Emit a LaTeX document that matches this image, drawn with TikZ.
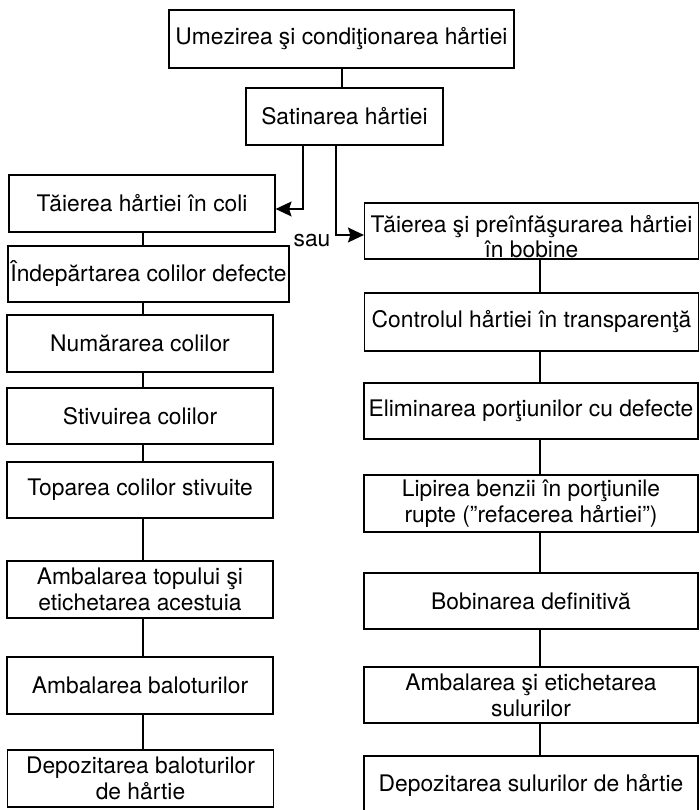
\documentclass[tikz,border=0pt]{standalone}
\usepackage{fontspec}
\setmainfont{TeX Gyre Heros}
\usetikzlibrary{arrows.meta}
\begin{document}
\begin{tikzpicture}[x=1pt,y=-1pt,
  etapa/.style={draw, line width=1.2pt, inner xsep=2pt, inner ysep=0pt, align=center,
    font=\fontsize{22.8}{26}\selectfont, minimum height=57pt},
  stg/.style={etapa, minimum width=266pt},
  dr/.style={etapa, minimum width=334pt},
  leg/.style={line width=1.2pt},
  sag/.style={line width=1.2pt, -{Stealth[length=16pt,width=15pt,inset=2.5pt]}}]
\useasboundingbox (0,0) rectangle (699,810);
\node[etapa, minimum width=345pt, minimum height=58pt] (umezire) at (341.5,39) {Umezirea şi condiţionarea hårtiei};
\node[etapa, minimum width=197pt] (satinare) at (344.5,116.5) {Satinarea hårtiei};
\node[stg] (coli) at (142,203.5) {Tăierea hårtiei în coli};
\node[etapa, minimum width=281pt, minimum height=56pt] (indepartare) at (148.5,274) {Îndepărtarea colilor defecte};
\node[stg] (numarare) at (140,343.5) {Numărarea colilor};
\node[stg, minimum height=56pt] (stivuire) at (140,416) {Stivuirea colilor};
\node[stg, minimum height=56pt] (topare) at (140,490) {Toparea colilor stivuite};
\node[stg] (ambtop) at (140,589.5) {Ambalarea topului şi\\etichetarea acestuia};
\node[stg] (ambbal) at (140,685.5) {Ambalarea baloturilor};
\node[stg] (depbal) at (140.5,778.5) {Depozitarea baloturilor\\de hårtie};
\node[dr, minimum height=56pt] (bobine) at (531.5,231) {\raisebox{-9pt}[\height][\depth]{\begin{tabular}{@{}c@{}}Tăierea şi preînfăşurarea hårtiei\\[-1pt]în bobine\end{tabular}}};
\node[dr, minimum height=58pt] (control) at (531.5,322) {Controlul hårtiei în transparenţă};
\node[dr, minimum height=56pt] (eliminare) at (531,411) {Eliminarea porţiunilor cu defecte};
\node[dr] (lipire) at (531,503.5) {Lipirea benzii în porţiunile\\rupte (”refacerea hårtiei”)};
\node[dr, minimum height=56pt] (bobinare) at (531,601) {Bobinarea definitivă};
\node[dr, minimum height=56pt] (ambsul) at (531,695) {Ambalarea şi etichetarea\\sulurilor};
\node[dr, minimum height=58pt] (depsul) at (531,785) {Depozitarea sulurilor de hårtie};
\node[font=\fontsize{22.8}{26}\selectfont, anchor=base] (sau) at (312,246) {sau};
\coordinate (ramst) at (303,209);
\coordinate (ramdr) at (336,235);
\coordinate (axst) at (143,0);
\coordinate (axdr) at (540,0);
\draw[leg] (umezire.south -| 342,0) -- (satinare.north -| 342,0);
\draw[sag] (satinare.south -| ramst) -- (ramst) -- (ramst -| coli.east);
\draw[sag] (satinare.south -| ramdr) -- (ramdr) -- (ramdr -| bobine.west);
\foreach \a/\b in {coli/indepartare, indepartare/numarare, numarare/stivuire, stivuire/topare, topare/ambtop, ambtop/ambbal, ambbal/depbal}
  \draw[leg] (\a.south -| axst) -- (\b.north -| axst);
\foreach \a/\b in {bobine/control, control/eliminare, eliminare/lipire, lipire/bobinare, bobinare/ambsul, ambsul/depsul}
  \draw[leg] (\a.south -| axdr) -- (\b.north -| axdr);
\end{tikzpicture}
\end{document}
